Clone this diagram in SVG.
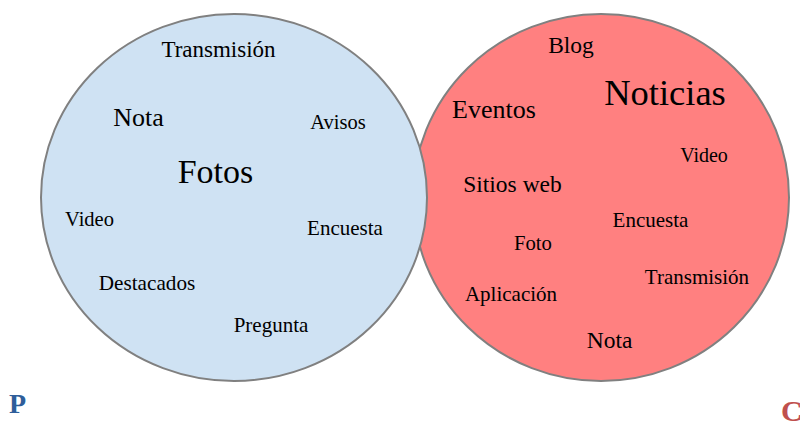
<svg xmlns="http://www.w3.org/2000/svg" width="800" height="421" viewBox="0 0 800 421">
<style>
.c{stroke:#808080;stroke-width:2}
.t{font-family:"Liberation Serif","Times New Roman",serif;fill:#000;text-anchor:middle}
.l{font-family:"Liberation Serif","Times New Roman",serif;font-weight:bold}
</style>
<rect width="800" height="421" fill="#fff"/>
<g id="red-set">
<ellipse class="c" cx="601" cy="197.5" rx="188" ry="183.5" fill="#ff8080"/>
<text class="t" x="571" y="53" font-size="23.5">Blog</text>
<text class="t" x="665" y="105" font-size="36.5">Noticias</text>
<text class="t" x="494" y="118" font-size="26">Eventos</text>
<text class="t" x="704" y="162" font-size="20">Video</text>
<text class="t" x="512.5" y="192" font-size="23.5">Sitios web</text>
<text class="t" x="650.5" y="227" font-size="21">Encuesta</text>
<text class="t" x="533" y="250" font-size="20.7">Foto</text>
<text class="t" x="697" y="284" font-size="21">Transmisión</text>
<text class="t" x="511" y="301" font-size="21">Aplicación</text>
<text class="t" x="609.5" y="348" font-size="23.5">Nota</text>
</g>
<g id="blue-set">
<ellipse class="c" cx="234" cy="197.5" rx="193" ry="183.5" fill="#cfe2f3"/>
<text class="t" x="218.5" y="57" font-size="23">Transmisión</text>
<text class="t" x="138.5" y="126" font-size="26">Nota</text>
<text class="t" x="338" y="129" font-size="20.5">Avisos</text>
<text class="t" x="215.5" y="183" font-size="34">Fotos</text>
<text class="t" x="89.5" y="226" font-size="20.5">Video</text>
<text class="t" x="345" y="235" font-size="21">Encuesta</text>
<text class="t" x="147" y="290" font-size="21.2">Destacados</text>
<text class="t" x="271" y="332" font-size="21">Pregunta</text>
</g>
<g id="labels">
<text class="l" x="9" y="413" font-size="28" fill="#2e5e9a">P</text>
<text class="l" x="781" y="421" font-size="30" fill="#c0504d">C</text>
</g>
<g id="connectors"/>
</svg>
